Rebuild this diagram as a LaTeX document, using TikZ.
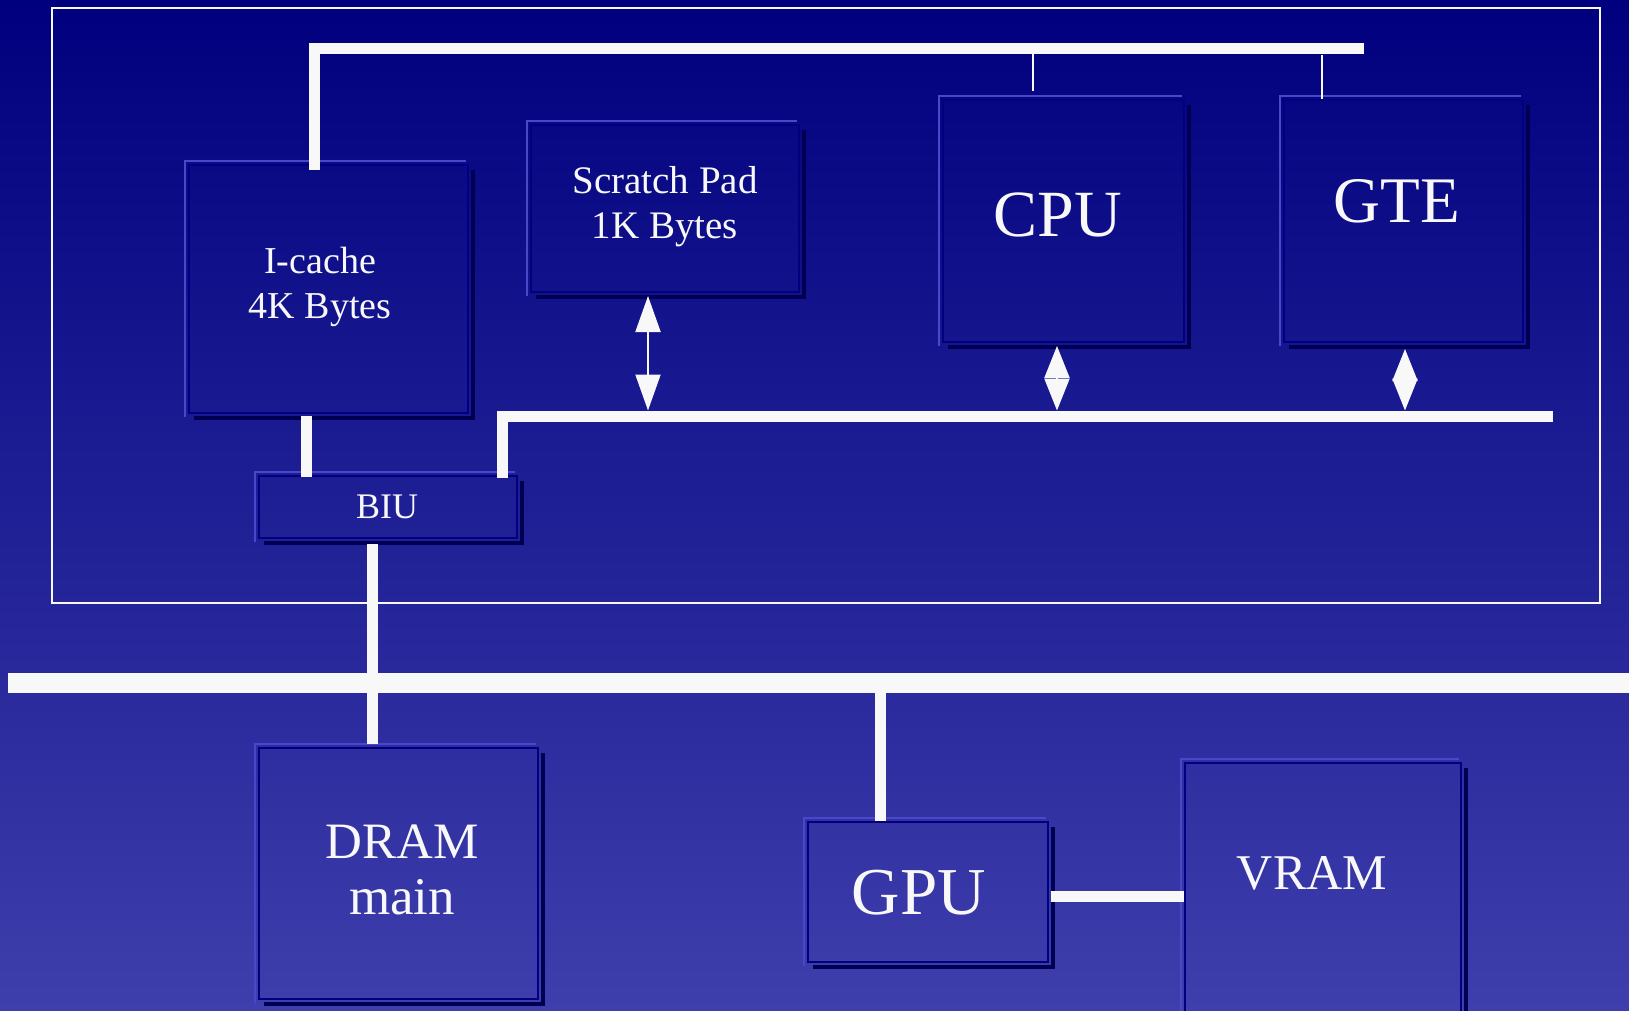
\documentclass[tikz,border=0pt]{standalone}
\usepackage{fontspec}
\setmainfont{Liberation Serif}
\usetikzlibrary{arrows.meta,fit}
\definecolor{bgtop}{RGB}{0,0,126}
\definecolor{bgbot}{RGB}{62,62,172}
\definecolor{bevlight}{RGB}{72,72,200}
\definecolor{bevdark}{RGB}{0,0,82}
\definecolor{boxedge}{RGB}{0,0,128}
\definecolor{wire}{RGB}{248,248,248}
\newcommand\boxbevel[1]{%
  \draw[bevlight, line width=1.2pt] ([shift={(-3,3)}]#1.south west) -- ([shift={(-3,-3)}]#1.north west) -- ([shift={(-3,-3)}]#1.north east);
  \draw[bevdark, line width=2.2pt] ([shift={(4,6)}]#1.north east) -- ([shift={(4,4)}]#1.south east) -- ([shift={(6,4)}]#1.south west);
}
\begin{document}
\begin{tikzpicture}[x=0.5pt,y=-0.5pt,
  box/.style={draw=boxedge, line width=1pt, inner sep=0pt},
  lbl/.style={text=wire, anchor=base, inner sep=0pt},
  bus/.style={draw=wire, line width=5.5pt},
  bigbus/.style={draw=wire, line width=10pt},
  thinw/.style={draw=wire, line width=1.2pt},
  dbl/.style={draw=wire, line width=1pt, {Triangle[length=18pt,width=12.5pt]}-{Triangle[length=18pt,width=12.5pt]}},
  dblshort/.style={draw=wire, line width=1pt, {Triangle[length=16pt,width=12.5pt]}-{Triangle[length=16pt,width=12.5pt]}},
]
\useasboundingbox (0,0) rectangle (1629,1011);
\shade[top color=bgtop, bottom color=bgbot] (0,0) rectangle (1629,1011);

% outer frame
\draw[wire, line width=1.3pt] (52,8) rectangle (1600,603);

% boxes
\node[box, fit={(189,165) (468,413)}] (icache) {};
\node[box, fit={(531,125) (799,292)}] (scratch) {};
\node[box, fit={(943,100) (1184,342)}] (cpu) {};
\node[box, fit={(1284,100) (1523,342)}] (gte) {};
\node[box, fit={(259,476) (517,538)}] (biu) {};
\node[box, fit={(259,748) (538,999)}] (dram) {};
\node[box, fit={(808,822) (1048,962)}] (gpu) {};
\node[box, fit={(1185,763) (1461,1030)}] (vram) {};
\boxbevel{icache}
\boxbevel{scratch}
\boxbevel{cpu}
\boxbevel{gte}
\boxbevel{biu}
\boxbevel{dram}
\boxbevel{gpu}
\boxbevel{vram}

% labels
\node[lbl, font=\fontsize{19}{19}\selectfont] (ic1) at (320,273) {I-cache};
\node[lbl, font=\fontsize{19}{19}\selectfont] (ic2) at (320,318) {4K Bytes};
\node[lbl, font=\fontsize{19.5}{19.5}\selectfont] (sp1) at (665,193) {Scratch Pad};
\node[lbl, font=\fontsize{19.5}{19.5}\selectfont] (sp2) at (665,238) {1K Bytes};
\node[lbl, font=\fontsize{33}{33}\selectfont] (cputxt) at (1058,236) {CPU};
\node[lbl, font=\fontsize{32.5}{32.5}\selectfont] (gtetxt) at (1397,222) {GTE};
\node[lbl, font=\fontsize{18}{18}\selectfont] (biutxt) at (387,518) {BIU};
\node[lbl, font=\fontsize{25.5}{25.5}\selectfont] (dr1) at (402,858) {DRAM};
\node[lbl, font=\fontsize{26.5}{26.5}\selectfont] (dr2) at (402,914) {main};
\node[lbl, font=\fontsize{33.5}{33.5}\selectfont] (gputxt) at (919,914) {GPU};
\node[lbl, font=\fontsize{25}{25}\selectfont] (vramtxt) at (1312,889) {VRAM};

% coordinates
\coordinate (tbL) at (314,49);
\coordinate (tbR) at (1364,49);
\coordinate (t1) at (1033,54);
\coordinate (t2) at (1322,55);
\coordinate (lbL) at (502,416);
\coordinate (lbR) at (1553,416);
\coordinate (ib) at (306,0);
\coordinate (bx) at (372,0);
\coordinate (BL) at (8,683);
\coordinate (BR) at (1629,683);
\coordinate (gx) at (880,0);
\coordinate (gy) at (0,896);
\coordinate (sa) at (648,0);
\coordinate (ca) at (1057,0);
\coordinate (ga) at (1405,0);

% top bus
\draw[bus] ([yshift=-3pt]icache.north -| tbL) -- (tbL) -- (tbR);
\draw[thinw, shorten >=4pt] (t1) -- (t1 |- cpu.north);
\draw[thinw] (t2) -- (t2 |- gte.north);

% lower internal bus
\draw[bus] ([yshift=-1.5pt]biu.north -| lbL) -- (lbL) -- (lbR);
\draw[bus] ([yshift=-1pt]icache.south -| ib) -- ([yshift=-1pt]biu.north -| ib);
\draw[bus] ([yshift=-2.5pt]biu.south -| bx) -- ([yshift=1.5pt]dram.north -| bx);

% main bus
\draw[bigbus] (BL) -- (BR);
\draw[bus] (BL -| gx) -- (gpu.north -| gx);
\draw[bus] ([xshift=1pt]gpu.east |- gy) -- (vram.west |- gy);

% arrows
\draw[dbl] ([yshift=-1.5pt]scratch.south -| sa) -- ([yshift=2.75pt]lbL -| sa);
\draw[dblshort] ([yshift=-1.5pt]cpu.south -| ca) -- ([yshift=2.75pt]lbL -| ca);
\draw[dblshort] ([yshift=-3pt]gte.south -| ga) -- ([yshift=2.75pt]lbL -| ga);
\end{tikzpicture}
\end{document}
